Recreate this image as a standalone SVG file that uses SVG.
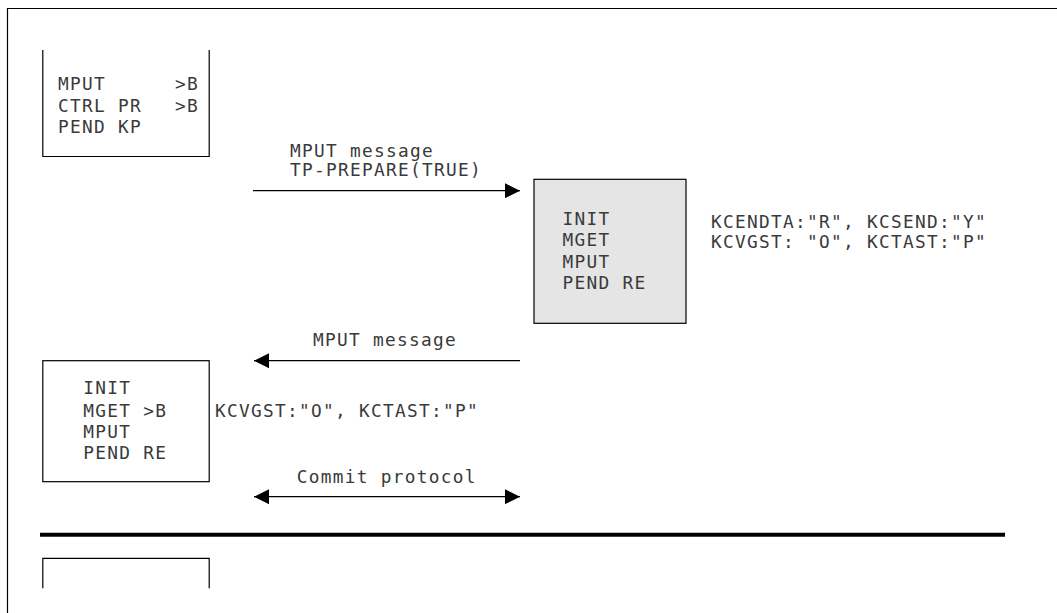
<svg xmlns="http://www.w3.org/2000/svg" width="1057" height="613" viewBox="0 0 1057 613">
  <style>
    text { font-family: "DejaVu Sans Mono", "Liberation Mono", monospace; font-size: 17.8px; letter-spacing: 1.3px; fill: #3a3a3a; white-space: pre; }
    .frame { fill: none; stroke: #000; stroke-width: 1.2; }
    .box { fill: #fff; stroke: #000; stroke-width: 1.2; }
    .open { fill: none; stroke: #000; stroke-width: 1.2; }
    .grey { fill: #e5e5e5; stroke: #000; stroke-width: 1.2; }
    .conn { fill: none; stroke: #000; stroke-width: 1.3; }
    .sep { fill: none; stroke: #000; stroke-width: 4; }
  </style>
  <defs>
    <marker id="arrow" viewBox="0 0 15 15" refX="15" refY="7.5" markerWidth="15" markerHeight="15" markerUnits="userSpaceOnUse" orient="auto-start-reverse">
      <path d="M0,0 L15,7.5 L0,15 Z" fill="#000"/>
    </marker>
  </defs>
  <rect width="1057" height="613" fill="#fff"/>
  <path class="frame" d="M7.5,613 V8.5 H1057"/>

  <g id="node-a1">
    <path class="open" d="M42.8,50 V156.5 H209.2 V50"/>
    <text x="58" y="90">MPUT     <tspan x="175">&gt;B</tspan></text>
    <text x="58" y="111.5">CTRL PR  <tspan x="175">&gt;B</tspan></text>
    <text x="58" y="133">PEND KP</text>
  </g>

  <g id="node-b1">
    <rect class="grey" x="534" y="179.3" width="152" height="144"/>
    <text x="562.5" y="224.5">INIT</text>
    <text x="562.5" y="246">MGET</text>
    <text x="562.5" y="267.5">MPUT</text>
    <text x="562.5" y="289">PEND RE</text>
  </g>

  <g id="note-b1">
    <text x="711" y="228">KCENDTA:"R", KCSEND:"Y"</text>
    <text x="711" y="247.5">KCVGST: "O", KCTAST:"P"</text>
  </g>

  <g id="node-a2">
    <rect class="box" x="42.8" y="360.7" width="166.4" height="121"/>
    <text x="83.3" y="394.3">INIT</text>
    <text x="83.3" y="416.7">MGET &gt;B</text>
    <text x="83.3" y="437.7">MPUT</text>
    <text x="83.3" y="459">PEND RE</text>
  </g>

  <g id="note-a2">
    <text x="215" y="416.7">KCVGST:"O", KCTAST:"P"</text>
  </g>

  <g id="node-a3">
    <path class="open" d="M42.8,588.3 V558.3 H209.2 V588.3"/>
  </g>

  <g id="connectors">
    <line class="conn" x1="253" y1="190.7" x2="520" y2="190.7" marker-end="url(#arrow)"/>
    <text x="290" y="157">MPUT message</text>
    <text x="290" y="176">TP-PREPARE(TRUE)</text>

    <line class="conn" x1="520" y1="360.7" x2="254" y2="360.7" marker-end="url(#arrow)"/>
    <text x="313" y="346">MPUT message</text>

    <line class="conn" x1="254" y1="496.7" x2="520" y2="496.7" marker-start="url(#arrow)" marker-end="url(#arrow)"/>
    <text x="296.7" y="483">Commit protocol</text>
  </g>

  <line class="sep" x1="40" y1="534.7" x2="1005" y2="534.7"/>
</svg>
